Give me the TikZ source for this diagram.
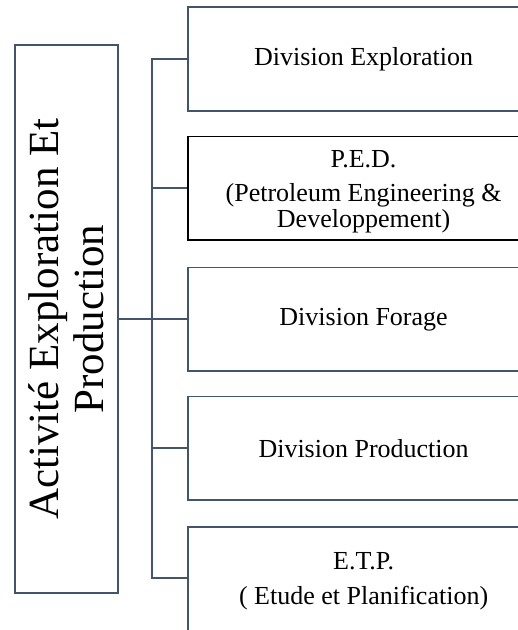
\documentclass[tikz,border=0pt]{standalone}
\usepackage{fontspec}
\setmainfont{Liberation Serif}
\definecolor{slate}{HTML}{44546A}
\begin{document}
\begin{tikzpicture}[x=1pt,y=-1pt,
  conn/.style={draw=slate,line width=1.8pt},
  divbox/.style={draw=slate,line width=1.8pt,rectangle,minimum width=352pt,minimum height=103.5pt,inner sep=0pt,align=center,font=\fontsize{26}{26}\selectfont,anchor=west},
  mainbox/.style={draw=slate,line width=1.8pt,rectangle,rotate=90,minimum width=548pt,minimum height=103pt,inner sep=0pt,align=center,font=\fontsize{43}{45}\selectfont}
]
\useasboundingbox (0,0) rectangle (518,630);
\fill[white] (0,0) rectangle (518,630);
\clip (0,0) rectangle (518,630);
\node[mainbox] (m) at (66.5,319) {Activité Exploration Et\\Production};
\node[divbox] (b1) at (186.7,59) {Division Exploration};
\node[divbox,draw=black] (b2) at (186.7,188.3) {\rule{0pt}{23pt}P.E.D.\\[8pt](Petroleum Engineering \&\\Developpement)};
\node[divbox] (b3) at (186.7,319.3) {Division Forage};
\node[divbox] (b4) at (186.7,448.3) {Division Production};
\node[divbox,minimum height=110pt] (b5) at (186.7,581.7) {E.T.P.\\[9pt]( Etude et Planification)};
\coordinate (bt) at (152,59);
\coordinate (bb) at (152,578.3);
\draw[conn] (b1.west) -- (bt) -- (bb) -- (b5.west |- bb);
\draw[conn] (b2.west) -- (b2.west -| bt);
\draw[conn] (b4.west) -- (b4.west -| bt);
\draw[conn] (m.south |- b3.west) -- (b3.west);
\end{tikzpicture}
\end{document}
